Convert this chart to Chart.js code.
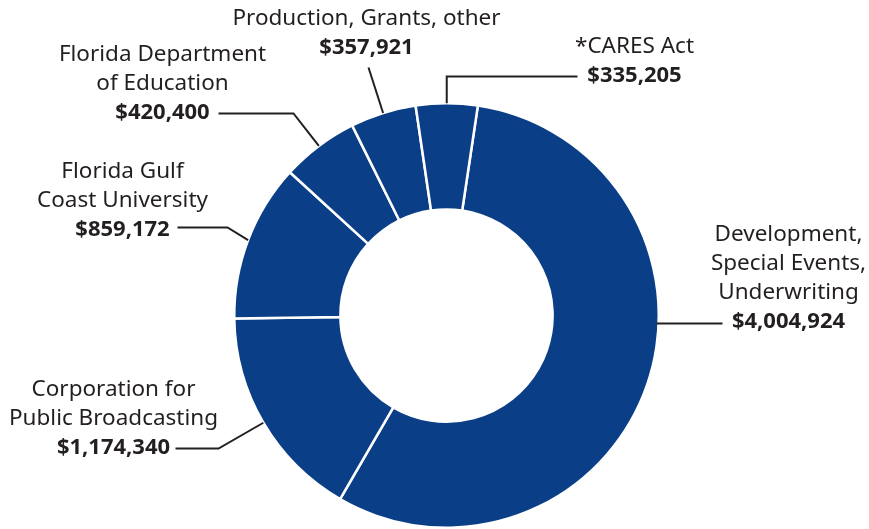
<!DOCTYPE html>
<html>
<head>
<meta charset="utf-8">
<script src="https://cdn.jsdelivr.net/npm/chart.js@4.4.1/dist/chart.umd.min.js"></script>
<style>
  html, body { margin: 0; padding: 0; background: #fff; }
  #wrap { width: 869px; height: 529px; }
</style>
</head>
<body>
<div id="wrap"><canvas id="donut" width="869" height="529"></canvas></div>
<script>
// data, clockwise from the top
const sources = [
    ['Development,', 'Special Events,', 'Underwriting'],
    ['Corporation for', 'Public Broadcasting'],
    ['Florida Gulf', 'Coast University'],
    ['Florida Department', 'of Education'],
    ['Production, Grants, other'],
    ['*CARES Act']
];
const amounts = [4004924, 1174340, 859172, 420400, 357921, 335205];
const amountLabels = ['$4,004,924', '$1,174,340', '$859,172', '$420,400', '$357,921', '$335,205'];

const ink = '#231f20';
const navy = '#0a3e87';

// where each label sits, as offsets from the doughnut centre
// tx/ty = centre of the amount line, lx = where the leader starts, ly = its height,
// ex = elbow x (null = go straight), end = how the leader meets the ring
const labelLayout = [
    { tx: 342, ty: 6, lx: 276, ly: 8, ex: null, end: 'flat' },
    { tx: -333, ty: 132, lx: -271, ly: 133, ex: -228, end: 'mid' },
    { tx: -324, ty: -86, lx: -269, ly: -88, ex: -219, end: 'mid' },
    { tx: -284, ty: -203, lx: -228, ly: -202, ex: -153, end: 'mid' },
    { tx: -80, ty: -268, lx: -78, ly: -248, ex: null, end: 'mid' },
    { tx: 188, ty: -240, lx: 131, ly: -239, ex: 'above', end: 'mid' }
];

const calloutPlugin = {
    id: 'callouts',
    afterDatasetsDraw(chart) {
        const ctx = chart.ctx;
        const arcs = chart.getDatasetMeta(0).data;
        ctx.save();
        arcs.forEach((arc, i) => {
            const p = arc.getProps(['x', 'y', 'startAngle', 'endAngle', 'outerRadius'], true);
            const L = labelLayout[i];
            const cx = p.x, cy = p.y, r = p.outerRadius;

            // point on the ring
            let endX, endY;
            if (L.end === 'flat') {
                endY = cy + L.ly;
                endX = cx + Math.sqrt(r * r - L.ly * L.ly) - 2;
            } else {
                const mid = (p.startAngle + p.endAngle) / 2;
                endX = cx + Math.cos(mid) * r;
                endY = cy + Math.sin(mid) * r;
            }

            ctx.strokeStyle = ink;
            ctx.lineWidth = 2;
            ctx.beginPath();
            ctx.moveTo(cx + L.lx, cy + L.ly);
            if (L.ex === 'above') {
                ctx.lineTo(endX, cy + L.ly);
            } else if (L.ex !== null) {
                ctx.lineTo(cx + L.ex, cy + L.ly);
            }
            ctx.lineTo(endX, endY);
            ctx.stroke();

            // text block
            ctx.fillStyle = ink;
            ctx.textAlign = 'center';
            ctx.textBaseline = 'middle';
            const lines = sources[i];
            ctx.font = '400 22.5px "Noto Sans"';
            lines.forEach((t, k) => {
                const off = (lines.length - k) * 29;
                ctx.fillText(t, cx + L.tx, cy + L.ty - off);
            });
            ctx.font = '700 22px "Noto Sans"';
            ctx.fillText(amountLabels[i], cx + L.tx, cy + L.ty);
        });
        ctx.restore();
    }
};

new Chart(document.getElementById('donut'), {
    type: 'doughnut',
    data: {
        labels: sources.map(s => s.join(' ')),
        datasets: [{
            data: amounts,
            backgroundColor: navy,
            borderColor: '#ffffff',
            borderWidth: 2.5,
            hoverOffset: 0
        }]
    },
    options: {
        responsive: false,
        animation: false,
        rotation: 8.5,
        cutout: '50%',
        layout: { padding: { top: 102, bottom: 0, left: 233, right: 209 } },
        plugins: {
            legend: { display: false },
            tooltip: { enabled: false }
        }
    },
    plugins: [calloutPlugin]
});
</script>
</body>
</html>
